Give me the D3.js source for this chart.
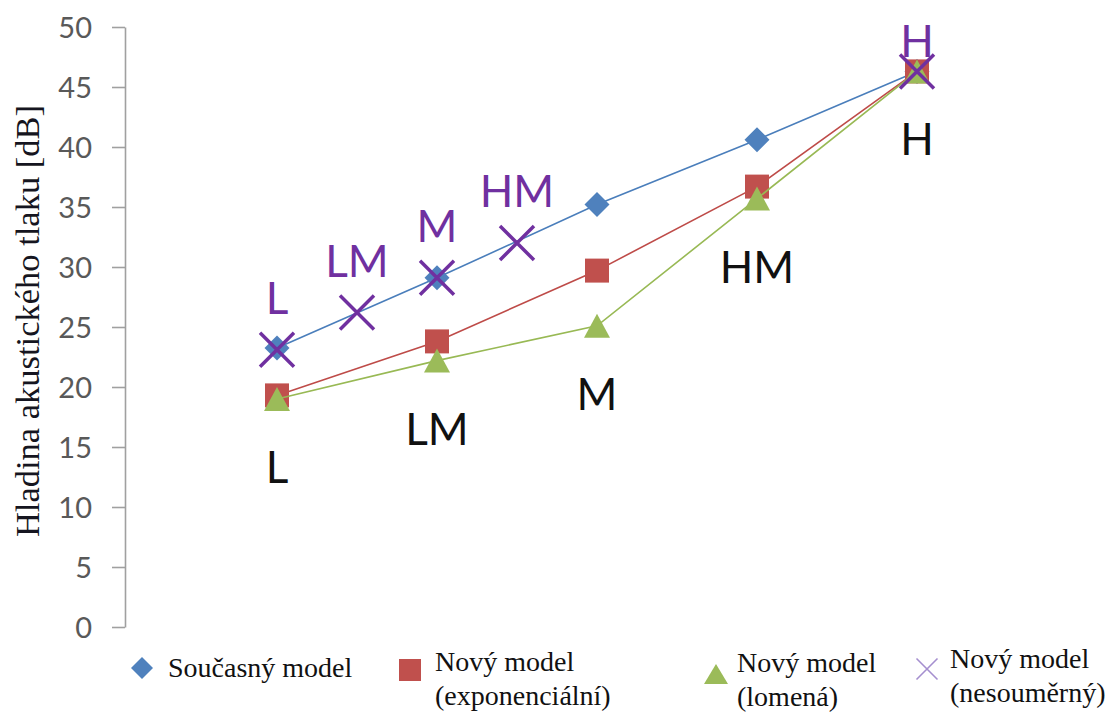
<!DOCTYPE html>
<html>
<head>
<meta charset="utf-8">
<script src="https://cdn.jsdelivr.net/npm/d3@7"></script>
<style>
  html, body { margin: 0; padding: 0; background: #fff; }
  svg { display: block; }
</style>
</head>
<body>
<svg id="chart" width="1113" height="713"></svg>
<script>
// Levels along the horizontal axis
const levels = ["L", "LM", "M", "HM", "H"];
const levelPos = [1, 2, 3, 4, 5];
const asymPos = [1, 1.5, 2, 2.5, 5];

// Sound pressure level [dB] per model
const current = [23.25, 29.1, 35.2, 40.6, 46.3];
const exponential = [19.3, 23.8, 29.7, 36.7, 46.3];
const brokenLine = [19.0, 22.2, 25.1, 35.7, 46.3];
const asymmetric = [23.1, 26.2, 29.1, 32.0, 46.3];

const yTicks = [0, 5, 10, 15, 20, 25, 30, 35, 40, 45, 50];

const legendNames = [
  ["Současný model"],
  ["Nový model", "(exponenciální)"],
  ["Nový model", "(lomená)"],
  ["Nový model", "(nesouměrný)"]
];

const svg = d3.select("#chart");

const axisX = 125;
const y = d3.scaleLinear().domain([0, 50]).range([627, 27]);
const x = d3.scaleLinear().domain([1, 5]).range([277, 917]);

// Y axis
const yAxis = d3.axisLeft(y).tickValues(yTicks).tickSize(13).tickSizeOuter(0).tickPadding(20);
const gAxis = svg.append("g").attr("transform", `translate(${axisX},0)`).call(yAxis);
gAxis.select(".domain").attr("stroke", "#a0a0a0").attr("stroke-width", 1.6);
gAxis.selectAll(".tick line").attr("stroke", "#a0a0a0").attr("stroke-width", 1.6);
gAxis.selectAll(".tick text")
  .attr("fill", "#595959")
  .style("font-family", "Lato, 'Open Sans', sans-serif")
  .style("font-size", "29px")
  .attr("dy", "0.36em");

svg.append("text")
  .attr("transform", "translate(39,321) rotate(-90)")
  .attr("text-anchor", "middle")
  .style("font-family", "'Liberation Serif', 'Times New Roman', serif")
  .style("font-size", "34.5px")
  .attr("fill", "#151520")
  .text("Hladina akustického tlaku [dB]");

// Marker shapes
function diamondPath(cx, cy, r) {
  const p = d3.path();
  p.moveTo(cx, cy - r); p.lineTo(cx + r, cy); p.lineTo(cx, cy + r); p.lineTo(cx - r, cy); p.closePath();
  return p.toString();
}
function squarePath(cx, cy, s) {
  const p = d3.path();
  p.rect(cx - s / 2, cy - s / 2, s, s);
  return p.toString();
}
function trianglePath(cx, cy, w, h) {
  const p = d3.path();
  p.moveTo(cx, cy - h / 2); p.lineTo(cx + w / 2, cy + h / 2); p.lineTo(cx - w / 2, cy + h / 2); p.closePath();
  return p.toString();
}
function crossPath(cx, cy, r) {
  const p = d3.path();
  p.moveTo(cx - r, cy - r); p.lineTo(cx + r, cy + r);
  p.moveTo(cx + r, cy - r); p.lineTo(cx - r, cy + r);
  return p.toString();
}

const line = d3.line().x(d => x(d[0])).y(d => y(d[1]));
const zip = (xs, ys) => xs.map((v, i) => [v, ys[i]]);

const plot = svg.append("g");

// Current model
plot.append("path").datum(zip(levelPos, current)).attr("d", line)
  .attr("fill", "none").attr("stroke", "#4a7ebb").attr("stroke-width", 1.6);
plot.selectAll(".m-cur").data(zip(levelPos, current)).join("path")
  .attr("d", d => diamondPath(x(d[0]), y(d[1]), 12.5)).attr("fill", "#4f81bd");

// Exponential model
plot.append("path").datum(zip(levelPos, exponential)).attr("d", line)
  .attr("fill", "none").attr("stroke", "#be4b48").attr("stroke-width", 1.6);
plot.selectAll(".m-exp").data(zip(levelPos, exponential)).join("path")
  .attr("d", d => squarePath(x(d[0]), y(d[1]), 24)).attr("fill", "#c0504d");

// Broken-line model
plot.append("path").datum(zip(levelPos, brokenLine)).attr("d", line)
  .attr("fill", "none").attr("stroke", "#98b954").attr("stroke-width", 1.6);
plot.selectAll(".m-brk").data(zip(levelPos, brokenLine)).join("path")
  .attr("d", d => trianglePath(x(d[0]), y(d[1]), 26, 24)).attr("fill", "#9bbb59");

// Asymmetric model (markers only)
plot.selectAll(".m-asym").data(zip(asymPos, asymmetric)).join("path")
  .attr("d", d => crossPath(x(d[0]), y(d[1]), 17))
  .attr("fill", "none").attr("stroke", "#7030a0").attr("stroke-width", 3.5);

// Level labels
const labelFont = "Lato, 'Open Sans', sans-serif";
const labelSize = 44;
const capH = labelSize * 0.72;

plot.selectAll(".lab-asym").data(zip(asymPos, asymmetric)).join("text")
  .attr("x", d => x(d[0]))
  .attr("y", d => Math.max(y(d[1]) - 36, y(50) - 2 + capH))
  .attr("text-anchor", "middle")
  .style("font-family", labelFont).style("font-size", labelSize + "px")
  .attr("fill", "#7030a0")
  .text((d, i) => levels[i]);

plot.selectAll(".lab-lvl").data(zip(levelPos, brokenLine)).join("text")
  .attr("x", d => x(d[0]))
  .attr("y", d => y(d[1]) + 84)
  .attr("text-anchor", "middle")
  .style("font-family", labelFont).style("font-size", labelSize + "px")
  .attr("fill", "#111")
  .text((d, i) => levels[i]);

// Legend
const legendItems = [
  { mx: 142, my: 668, tx: 168, ty: 677, draw: (g, cx, cy) => g.append("path").attr("d", diamondPath(cx, cy, 11)).attr("fill", "#4f81bd") },
  { mx: 410, my: 670, tx: 435, ty: 671, draw: (g, cx, cy) => g.append("path").attr("d", squarePath(cx, cy, 22)).attr("fill", "#c0504d") },
  { mx: 716, my: 674, tx: 737, ty: 672, draw: (g, cx, cy) => g.append("path").attr("d", trianglePath(cx, cy, 24, 20)).attr("fill", "#9bbb59") },
  { mx: 927, my: 669, tx: 950, ty: 668, draw: (g, cx, cy) => g.append("path").attr("d", crossPath(cx, cy, 10.5)).attr("fill", "none").attr("stroke", "#a58fcf").attr("stroke-width", 1.6) }
];

const legend = svg.append("g");
legendItems.forEach((it, i) => {
  it.draw(legend, it.mx, it.my);
  const t = legend.append("text")
    .attr("x", it.tx).attr("y", it.ty)
    .style("font-family", "'Liberation Serif', 'Times New Roman', serif")
    .style("font-size", "28px")
    .attr("fill", "#111");
  legendNames[i].forEach((s, j) => {
    t.append("tspan").attr("x", it.tx).attr("dy", j === 0 ? 0 : 34).text(s);
  });
});
</script>
</body>
</html>
